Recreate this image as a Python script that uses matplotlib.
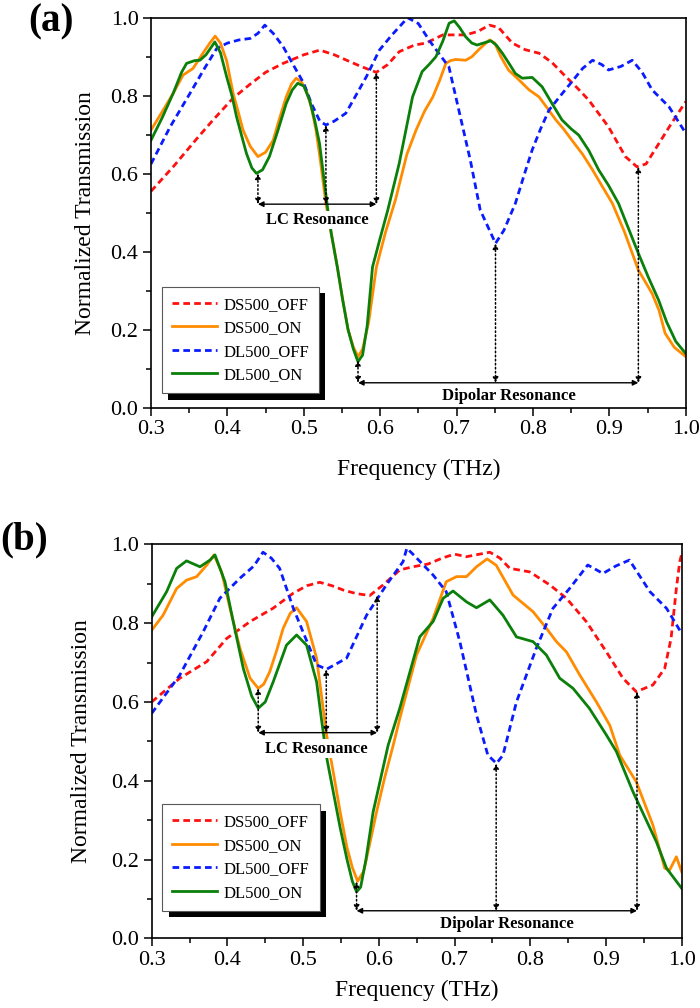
import matplotlib
matplotlib.use('Agg')
import matplotlib.pyplot as plt
from matplotlib import patheffects
from matplotlib.ticker import MultipleLocator, FormatStrFormatter

plt.rcParams['font.family'] = 'Liberation Serif'

# ---- panel (a) data ----
a_ds_off_f = [0.30, 0.33, 0.36, 0.38, 0.407, 0.43, 0.45, 0.473, 0.50, 0.521, 0.54, 0.555, 0.575, 0.595,
              0.61, 0.625, 0.645, 0.66, 0.682, 0.712, 0.728, 0.743, 0.755, 0.773, 0.79, 0.808, 0.825,
              0.843, 0.858, 0.873, 0.899, 0.921, 0.936, 0.948, 0.965, 0.98, 1.0]
a_ds_off_t = [0.555, 0.62, 0.69, 0.735, 0.793, 0.83, 0.86, 0.883, 0.905, 0.917, 0.905, 0.892, 0.875, 0.86,
              0.88, 0.913, 0.93, 0.935, 0.956, 0.956, 0.965, 0.981, 0.975, 0.935, 0.918, 0.909, 0.885,
              0.849, 0.82, 0.789, 0.72, 0.644, 0.618, 0.625, 0.678, 0.725, 0.785]

a_ds_on_f = [0.30, 0.315, 0.329, 0.342, 0.355, 0.368, 0.377, 0.384, 0.391, 0.399, 0.4075, 0.414, 0.4205,
             0.43, 0.44, 0.45, 0.46, 0.468, 0.477, 0.484, 0.49, 0.497, 0.503, 0.51, 0.516, 0.522, 0.529,
             0.536, 0.544, 0.551, 0.558, 0.565, 0.571, 0.577, 0.585, 0.595, 0.607, 0.62, 0.635, 0.647,
             0.658, 0.669, 0.678, 0.686, 0.692, 0.699, 0.712, 0.72, 0.73, 0.743, 0.75, 0.758, 0.768,
             0.782, 0.795, 0.808, 0.82, 0.83, 0.84, 0.851, 0.865, 0.878, 0.89, 0.904, 0.92, 0.938,
             0.956, 0.965, 0.973, 0.985, 1.0]
a_ds_on_t = [0.712, 0.76, 0.806, 0.853, 0.87, 0.909, 0.935, 0.953, 0.935, 0.89, 0.806, 0.76, 0.712,
             0.67, 0.644, 0.655, 0.686, 0.74, 0.797, 0.83, 0.845, 0.835, 0.815, 0.77, 0.712, 0.63, 0.524,
             0.447, 0.36, 0.276, 0.20, 0.155, 0.131, 0.15, 0.22, 0.36, 0.45, 0.533, 0.65, 0.712,
             0.76, 0.797, 0.84, 0.883, 0.89, 0.893, 0.891, 0.9, 0.92, 0.943, 0.935, 0.9, 0.866,
             0.84, 0.815, 0.797, 0.765, 0.738, 0.715, 0.686, 0.65, 0.61, 0.57, 0.524, 0.45, 0.353,
             0.293, 0.25, 0.191, 0.155, 0.131]

a_dl_off_f = [0.30, 0.325, 0.351, 0.37, 0.386, 0.40, 0.415, 0.43, 0.44, 0.449, 0.46, 0.473, 0.486, 0.50,
              0.51, 0.521, 0.529, 0.54, 0.555, 0.568, 0.582, 0.599, 0.615, 0.636, 0.65, 0.665, 0.677,
              0.69, 0.703, 0.718, 0.731, 0.742, 0.751, 0.762, 0.777, 0.789, 0.799, 0.81, 0.821, 0.836,
              0.851, 0.865, 0.878, 0.89, 0.899, 0.915, 0.93, 0.943, 0.956, 0.978, 1.0]
a_dl_off_t = [0.625, 0.72, 0.806, 0.87, 0.921, 0.935, 0.943, 0.947, 0.96, 0.981, 0.96, 0.926, 0.88, 0.832,
              0.78, 0.735, 0.725, 0.735, 0.755, 0.80, 0.849, 0.917, 0.955, 1.0, 0.985, 0.94, 0.908,
              0.874, 0.763, 0.635, 0.507, 0.46, 0.4215, 0.455, 0.524, 0.60, 0.661, 0.715, 0.763, 0.80,
              0.836, 0.87, 0.891, 0.88, 0.866, 0.875, 0.891, 0.86, 0.815, 0.772, 0.704]

a_dl_on_f = [0.30, 0.315, 0.329, 0.34, 0.3466, 0.357, 0.364, 0.372, 0.3836, 0.391, 0.399, 0.406, 0.412,
             0.419, 0.425, 0.432, 0.438, 0.446, 0.455, 0.466, 0.477, 0.485, 0.492, 0.5, 0.5076, 0.514,
             0.5206, 0.5315, 0.536, 0.544, 0.551, 0.558, 0.565, 0.571, 0.577, 0.583, 0.59, 0.6, 0.61,
             0.625, 0.6424, 0.655, 0.664, 0.673, 0.682, 0.6903, 0.697, 0.704, 0.712, 0.72, 0.727, 0.735,
             0.7448, 0.752, 0.76, 0.768, 0.777, 0.786, 0.799, 0.812, 0.825, 0.838, 0.85, 0.86, 0.873,
             0.886, 0.899, 0.912, 0.925, 0.938, 0.951, 0.9645, 0.975, 0.987, 1.0]
a_dl_on_t = [0.686, 0.745, 0.806, 0.86, 0.883, 0.89, 0.891, 0.905, 0.938, 0.91, 0.849, 0.80, 0.746,
             0.695, 0.652, 0.615, 0.601, 0.61, 0.644, 0.71, 0.78, 0.815, 0.832, 0.825, 0.789, 0.74,
             0.678, 0.507, 0.447, 0.36, 0.276, 0.20, 0.15, 0.118, 0.135, 0.21, 0.361, 0.435, 0.507,
             0.627, 0.797, 0.862, 0.88, 0.9, 0.94, 0.986, 0.992, 0.975, 0.951, 0.935, 0.93, 0.935,
             0.941, 0.93, 0.909, 0.885, 0.857, 0.845, 0.847, 0.823, 0.78, 0.738, 0.715, 0.699, 0.66,
             0.61, 0.57, 0.524, 0.46, 0.396, 0.335, 0.276, 0.22, 0.17, 0.139]

# ---- panel (b) data ----
b_ds_off_f = [0.30, 0.337, 0.3726, 0.399, 0.43, 0.4605, 0.487, 0.505, 0.522, 0.538, 0.553, 0.57, 0.588,
              0.6057, 0.6277, 0.645, 0.665, 0.685, 0.70, 0.7158, 0.7466, 0.76, 0.773, 0.7994, 0.8258,
              0.8478, 0.874, 0.9006, 0.9225, 0.94, 0.962, 0.9776, 0.986, 0.993, 0.9975, 1.0]
b_ds_off_t = [0.6, 0.66, 0.702, 0.761, 0.804, 0.838, 0.876, 0.895, 0.9036, 0.895, 0.884, 0.875, 0.87,
              0.897, 0.935, 0.943, 0.95, 0.966, 0.975, 0.9686, 0.98, 0.965, 0.939, 0.93, 0.897,
              0.863, 0.804, 0.727, 0.66, 0.626, 0.643, 0.685, 0.761, 0.888, 0.956, 0.975]

b_ds_on_f = [0.30, 0.315, 0.333, 0.346, 0.3594, 0.3726, 0.3822, 0.3924, 0.4034, 0.4166, 0.43, 0.4407,
             0.448, 0.456, 0.465, 0.4737, 0.483, 0.4914, 0.5046, 0.5178, 0.524, 0.531, 0.54, 0.549,
             0.558, 0.565, 0.572, 0.58, 0.588, 0.597, 0.608, 0.619, 0.6277, 0.6498, 0.6717, 0.689,
             0.7026, 0.7158, 0.729, 0.743, 0.755, 0.7774, 0.8037, 0.8213, 0.8346, 0.8478, 0.8655,
             0.8874, 0.905, 0.9182, 0.94, 0.962, 0.9776, 0.984, 0.993, 1.0]
b_ds_on_t = [0.782, 0.82, 0.888, 0.909, 0.918, 0.947, 0.973, 0.93, 0.8376, 0.736, 0.66, 0.6345,
             0.645, 0.677, 0.73, 0.787, 0.825, 0.839, 0.804, 0.711, 0.62, 0.516, 0.42, 0.32,
             0.23, 0.18, 0.145, 0.17, 0.24, 0.321, 0.41, 0.49, 0.558, 0.719, 0.812, 0.905,
             0.918, 0.918, 0.943, 0.963, 0.947, 0.871, 0.829, 0.787, 0.753, 0.727, 0.668,
             0.6, 0.541, 0.465, 0.3975, 0.2876, 0.178, 0.173, 0.207, 0.169]

b_dl_off_f = [0.30, 0.337, 0.368, 0.39, 0.4166, 0.435, 0.447, 0.458, 0.469, 0.487, 0.5178, 0.531, 0.5574,
              0.5838, 0.61, 0.632, 0.637, 0.645, 0.6717, 0.689, 0.707, 0.729, 0.744, 0.7554, 0.764,
              0.7818, 0.808, 0.83, 0.852, 0.876, 0.896, 0.913, 0.931, 0.958, 0.98, 1.0]
b_dl_off_t = [0.571, 0.668, 0.778, 0.863, 0.914, 0.945, 0.98, 0.965, 0.939, 0.838, 0.694, 0.683, 0.711,
              0.82, 0.897, 0.956, 0.99, 0.975, 0.922, 0.88, 0.753, 0.567, 0.465, 0.444, 0.465,
              0.6, 0.736, 0.8376, 0.888, 0.9475, 0.926, 0.945, 0.96, 0.88, 0.8376, 0.774]

b_dl_on_f = [0.30, 0.3198, 0.333, 0.346, 0.3638, 0.377, 0.3836, 0.3968, 0.4077, 0.421, 0.432, 0.4407,
             0.45, 0.4605, 0.478, 0.4914, 0.5046, 0.5178, 0.524, 0.531, 0.54, 0.549, 0.558, 0.565,
             0.5706, 0.576, 0.583, 0.5925, 0.6123, 0.6277, 0.654, 0.6717, 0.685, 0.698, 0.7158,
             0.729, 0.7466, 0.764, 0.7818, 0.8037, 0.8213, 0.839, 0.8565, 0.878, 0.9006, 0.9138,
             0.9357, 0.9666, 0.98, 1.0]
b_dl_on_t = [0.816, 0.88, 0.939, 0.958, 0.943, 0.96, 0.973, 0.905, 0.804, 0.685, 0.615, 0.584,
             0.60, 0.651, 0.744, 0.77, 0.744, 0.651, 0.56, 0.46, 0.37, 0.28, 0.2, 0.145,
             0.118, 0.13, 0.2, 0.321, 0.49, 0.584, 0.765, 0.804, 0.863, 0.8815, 0.854,
             0.839, 0.859, 0.82, 0.765, 0.753, 0.719, 0.66, 0.6345, 0.584, 0.516, 0.474,
             0.372, 0.245, 0.178, 0.127]

labels = ['DS500_OFF', 'DS500_ON', 'DL500_OFF', 'DL500_ON']

# resonance markers: (frequency, curve value) pairs and level of the horizontal arrow
a_lc = [(0.44, 0.601), (0.529, 0.725), (0.595, 0.86)]
a_lc_level = 0.522
a_dip = [(0.571, 0.122), (0.751, 0.4215), (0.938, 0.618)]
a_dip_level = 0.064
b_lc = [(0.4407, 0.6345), (0.5306, 0.683), (0.5978, 0.87)]
b_lc_level = 0.522
b_dip = [(0.5706, 0.144), (0.755, 0.444), (0.941, 0.626)]
b_dip_level = 0.07


def draw_panel(ax, ds_off, ds_on, dl_off, dl_on, lc, lc_lvl, dip, dip_lvl, leg_y):
    ax.plot(ds_off[0], ds_off[1], color='#ff1010', lw=2, dashes=(2.4, 1.5), label=labels[0])
    ax.plot(ds_on[0], ds_on[1], color='#ff8c00', lw=2, label=labels[1])
    ax.plot(dl_off[0], dl_off[1], color='#0a1cff', lw=2, dashes=(2.4, 1.5), label=labels[2])
    ax.plot(dl_on[0], dl_on[1], color='#0a800a', lw=2, label=labels[3])

    # dotted vertical arrows + solid horizontal arrow
    for group, lvl in ((lc, lc_lvl), (dip, dip_lvl)):
        for f, t in group:
            ax.annotate('', xy=(f, t), xytext=(f, lvl),
                        arrowprops=dict(arrowstyle='<|-|>', ls=':', lw=1.1, color='k',
                                        mutation_scale=8, shrinkA=0, shrinkB=0))
        ax.annotate('', xy=(group[-1][0], lvl), xytext=(group[0][0], lvl),
                    arrowprops=dict(arrowstyle='<|-|>', lw=1.0, color='k',
                                    mutation_scale=8, shrinkA=0, shrinkB=0))
    ax.text(0.518, lc_lvl - 0.041, 'LC Resonance', ha='center', va='center', fontsize=12,
            fontweight='bold', zorder=5, bbox=dict(facecolor='white', edgecolor='none', pad=1))
    ax.text(0.7687, dip_lvl - 0.033, 'Dipolar Resonance', ha='center', va='center', fontsize=12,
            fontweight='bold', zorder=5)

    ax.set_xlim(0.3, 1.0)
    ax.set_ylim(0.0, 1.0)
    ax.xaxis.set_major_locator(MultipleLocator(0.1))
    ax.xaxis.set_minor_locator(MultipleLocator(0.05))
    ax.yaxis.set_major_locator(MultipleLocator(0.2))
    ax.yaxis.set_minor_locator(MultipleLocator(0.1))
    ax.xaxis.set_major_formatter(FormatStrFormatter('%.1f'))
    ax.yaxis.set_major_formatter(FormatStrFormatter('%.1f'))
    ax.tick_params(which='both', direction='out', width=1.1, labelsize=16)
    ax.tick_params(which='major', length=5.5)
    ax.tick_params(which='minor', length=3.5)
    for s in ax.spines.values():
        s.set_linewidth(1.2)
    ax.set_xlabel('Frequency (THz)', fontsize=17)
    ax.set_ylabel('Normalized Transmission', fontsize=17)

    leg = ax.legend(loc='lower left', bbox_to_anchor=(0.02, leg_y), borderaxespad=0,
                    fontsize=12, handlelength=2.7, handletextpad=0.4, labelspacing=0.45,
                    fancybox=False, framealpha=1, edgecolor='0.35', borderpad=0.6)
    leg.get_frame().set_linewidth(0.8)
    leg.get_frame().set_path_effects([
        patheffects.SimplePatchShadow(offset=(4.5, -4.5), shadow_rgbFace='k', alpha=1.0),
        patheffects.Normal()])
    return ax


fig = plt.figure(figsize=(7, 10.08), dpi=100)
ax_a = fig.add_axes([0.2157, 0.5955, 0.7639, 0.3869])
ax_b = fig.add_axes([0.2167, 0.0691, 0.7571, 0.3909])

draw_panel(ax_a, (a_ds_off_f, a_ds_off_t), (a_ds_on_f, a_ds_on_t), (a_dl_off_f, a_dl_off_t),
           (a_dl_on_f, a_dl_on_t), a_lc, a_lc_level, a_dip, a_dip_level, 0.037)
draw_panel(ax_b, (b_ds_off_f, b_ds_off_t), (b_ds_on_f, b_ds_on_t), (b_dl_off_f, b_dl_off_t),
           (b_dl_on_f, b_dl_on_t), b_lc, b_lc_level, b_dip, b_dip_level, 0.07)

ax_a.yaxis.set_label_coords(-0.103, 0.5)
ax_b.yaxis.set_label_coords(-0.113, 0.5)
ax_a.xaxis.set_label_coords(0.5, -0.13)
ax_b.xaxis.set_label_coords(0.5, -0.105)

fig.text(0.04, 0.997, '(a)', fontsize=28, fontweight='bold', ha='left', va='top')
fig.text(0.0, 0.483, '(b)', fontsize=28, fontweight='bold', ha='left', va='top')

fig.savefig('out.png', dpi=100)
